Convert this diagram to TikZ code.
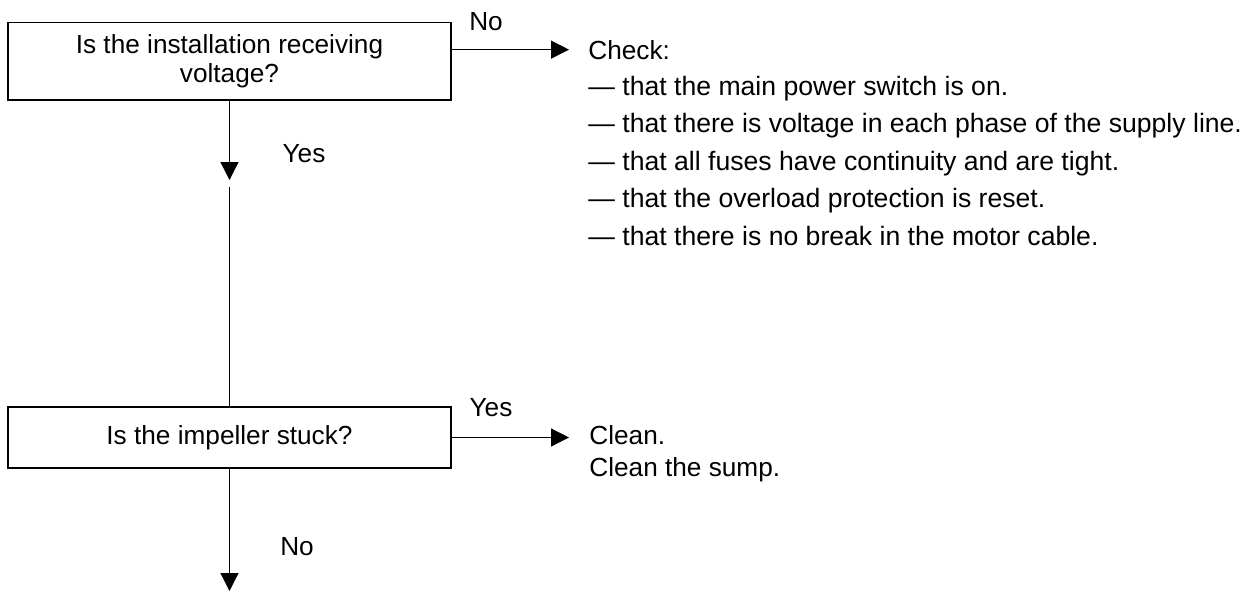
\documentclass[tikz,border=0pt]{standalone}
\usepackage{fontspec}
\setmainfont{Liberation Sans}
\usetikzlibrary{positioning,arrows.meta}
\tikzset{
  qbox/.style={draw, line width=0.6pt, minimum width=221.5pt, align=center, inner sep=0pt},
  ar/.style={-{Triangle[length=9pt, width=9pt]}, line width=0.6pt},
  ln/.style={line width=0.6pt},
  lbl/.style={inner sep=0pt, anchor=base},
  txt/.style={inner sep=0pt, anchor=base west, align=left},
}

\begin{document}
\begin{tikzpicture}[x=0.5pt, y=-0.5pt, font=\fontsize{13.1}{14.35}\selectfont]
    \useasboundingbox (0,0) rectangle (1249,591);
    % questions
    \node[qbox, minimum height=38.65pt] (q1) at (229.5,61.35) {Is the installation receiving\\voltage?};
    \node[qbox, minimum height=30.5pt] (q2) at (229.5,437.5) {Is the impeller stuck?};

    % answers (base of a multi-line node = its last line)
    \node[txt] (chk) at (588,59) {Check:};
    \node[txt, font=\fontsize{13.3}{18.7}\selectfont] (chklst) at (588,245.1)
      {— that the main power switch is on.\\
       — that there is voltage in each phase of the supply line.\\
       — that all fuses have continuity and are tight.\\
       — that the overload protection is reset.\\
       — that there is no break in the motor cable.};
    \node[txt] (cln) at (589,444) {Clean.};
    \node[txt] (sump) at (589,476) {Clean the sump.};

    \coordinate (y1) at (229.5,180);
    \coordinate (y2) at (229.5,187);
    \coordinate (down) at (229.5,591);

    \draw[ar] (q1.east |- chk.west) -- ([xshift=-9.5pt]chk.west);
    \draw[ar] (q2.east) -- ([xshift=-10pt]q2.east -| cln.west);
    \draw[ar] (q1) -- (y1);
    \draw[ln] (y2) -- (q2);
    \draw[ar] (q2) -- (down);

    \node[lbl] (no1) at (486,30) {No};
    \node[lbl] (yes1) at (304,162) {Yes};
    \node[lbl] (yes2) at (491,416) {Yes};
    \node[lbl] (no2) at (297,555) {No};
  \end{tikzpicture}
\end{document}
